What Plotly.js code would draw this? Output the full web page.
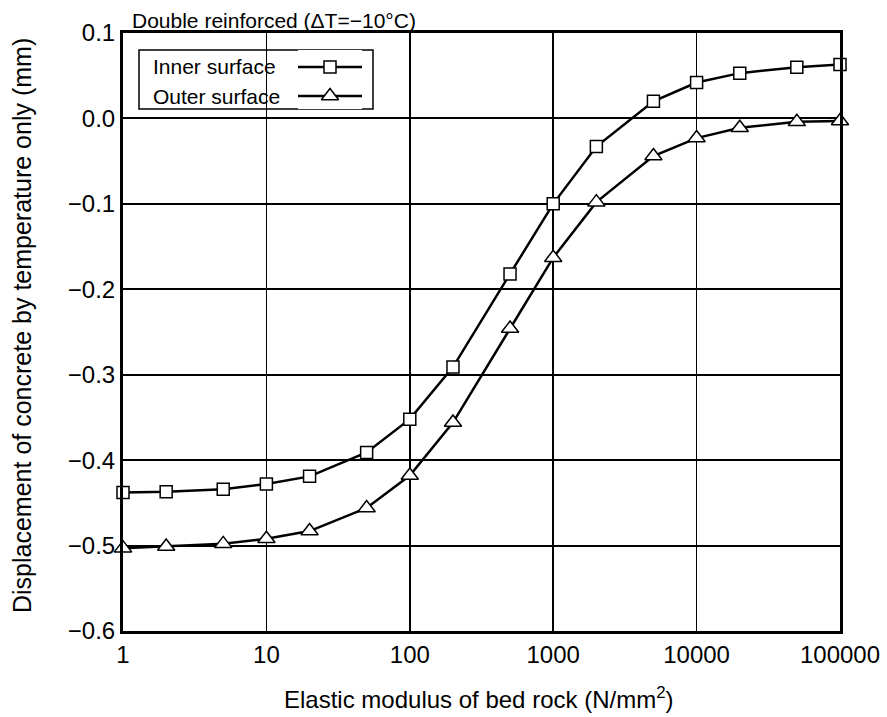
<!DOCTYPE html>
<html>
<head>
<meta charset="utf-8">
<script src="https://cdn.plot.ly/plotly-3.0.1.min.js"></script>
<style>html,body{margin:0;padding:0;background:#fff}#chart{width:887px;height:717px}</style>
</head>
<body>
<div id="chart"></div>
<script>
const modulus = [1, 2, 5, 10, 20, 50, 100, 200, 500, 1000, 2000, 5000, 10000, 20000, 50000, 100000];
const innerSurface = [-0.438, -0.437, -0.434, -0.428, -0.419, -0.391, -0.352, -0.291, -0.182, -0.100, -0.033, 0.020, 0.042, 0.053, 0.060, 0.063];
const outerSurface = [-0.503, -0.501, -0.498, -0.492, -0.483, -0.456, -0.418, -0.356, -0.246, -0.163, -0.098, -0.044, -0.023, -0.011, -0.004, -0.003];
const seriesNames = ['Inner surface', 'Outer surface'];
const xTickVals = [1, 10, 100, 1000, 10000, 100000];
const xTickText = ['1', '10', '100', '1000', '10000', '100000'];
const yTickVals = [0.1, 0.0, -0.1, -0.2, -0.3, -0.4, -0.5, -0.6];

const FONT = 'Liberation Sans, Arial, sans-serif';
const squareMarker = {symbol: 'square', size: 12, color: '#fff', line: {color: '#000', width: 1.5}};
const triMarker = {symbol: 'triangle-up', size: 15, color: '#fff', line: {color: '#000', width: 1.5}};

const traces = [
  {x: modulus, y: innerSurface, mode: 'lines+markers', name: seriesNames[0], line: {color: '#000', width: 2.5}, marker: squareMarker, cliponaxis: false, showlegend: false},
  {x: modulus, y: outerSurface, mode: 'lines+markers', name: seriesNames[1], line: {color: '#000', width: 2.5}, marker: triMarker, cliponaxis: false, showlegend: false},
  // legend samples on a helper axis
  {x: [0, 1], y: [0.71, 0.71], xaxis: 'x2', yaxis: 'y2', mode: 'lines', line: {color: '#000', width: 2.5}, showlegend: false, hoverinfo: 'skip'},
  {x: [0.5], y: [0.71], xaxis: 'x2', yaxis: 'y2', mode: 'markers', marker: squareMarker, showlegend: false, hoverinfo: 'skip', cliponaxis: false},
  {x: [0, 1], y: [0.22, 0.22], xaxis: 'x2', yaxis: 'y2', mode: 'lines', line: {color: '#000', width: 2.5}, showlegend: false, hoverinfo: 'skip'},
  {x: [0.5], y: [0.22], xaxis: 'x2', yaxis: 'y2', mode: 'markers', marker: triMarker, showlegend: false, hoverinfo: 'skip', cliponaxis: false}
];

const L = 123, R = 47, T = 33, B = 86;
const W = 887 - L - R, H = 717 - T - B;
const px = v => (v - L) / W;
const py = v => (717 - B - v) / H;

const layout = {
  width: 887, height: 717,
  margin: {l: L, r: R, t: T, b: B},
  paper_bgcolor: '#fff', plot_bgcolor: '#fff',
  font: {family: FONT, color: '#000'},
  title: {text: 'Double reinforced (\u0394T=\u221210\u00b0C)', font: {size: 21, family: FONT, color: '#000'},
          xref: 'paper', x: px(132), xanchor: 'left', yref: 'container', y: 1 - 21/717, yanchor: 'middle'},
  xaxis: {type: 'log', range: [0, 5], tickvals: xTickVals, ticktext: xTickText,
          showgrid: true, gridcolor: '#000', gridwidth: 1.5, zeroline: false,
          showline: true, mirror: true, linecolor: '#000', linewidth: 3, ticks: '',
          tickfont: {size: 24, family: FONT, color: '#000'}},
  yaxis: {range: [-0.6, 0.1], tickvals: yTickVals, tickformat: '.1f',
          showgrid: true, gridcolor: '#000', gridwidth: 2, zeroline: false,
          showline: true, mirror: true, linecolor: '#000', linewidth: 3, ticks: '',
          tickfont: {size: 24, family: FONT, color: '#000'}},
  xaxis2: {domain: [px(298), px(362)], range: [0, 1], visible: false, anchor: 'y2', fixedrange: true},
  yaxis2: {domain: [py(109), py(50)], range: [0, 1], visible: false, anchor: 'x2', fixedrange: true},
  shapes: [
    {type: 'rect', xref: 'paper', yref: 'paper', x0: px(139), x1: px(373), y0: py(109), y1: py(50),
     line: {color: '#000', width: 1.5}, fillcolor: '#fff', layer: 'below'}
  ],
  annotations: [
    {xref: 'paper', yref: 'paper', x: px(151), y: py(67), xanchor: 'left', yanchor: 'middle', showarrow: false,
     text: seriesNames[0], font: {size: 21, family: FONT, color: '#000'}},
    {xref: 'paper', yref: 'paper', x: px(151), y: py(96), xanchor: 'left', yanchor: 'middle', showarrow: false,
     text: seriesNames[1], font: {size: 21, family: FONT, color: '#000'}},
    {xref: 'paper', yref: 'paper', x: px(478), y: py(698), xanchor: 'center', yanchor: 'middle', showarrow: false,
     text: 'Elastic modulus of bed rock (N/mm<sup>2</sup>)', font: {size: 24, family: FONT, color: '#000'}},
    {xref: 'paper', yref: 'paper', x: px(22), y: py(326), xanchor: 'center', yanchor: 'middle', showarrow: false, textangle: -90,
     text: 'Displacement of concrete by temperature only (mm)', font: {size: 25, family: FONT, color: '#000'}}
  ],
  showlegend: false
};

Plotly.newPlot('chart', traces, layout, {displayModeBar: false, staticPlot: true});
</script>
</body>
</html>
